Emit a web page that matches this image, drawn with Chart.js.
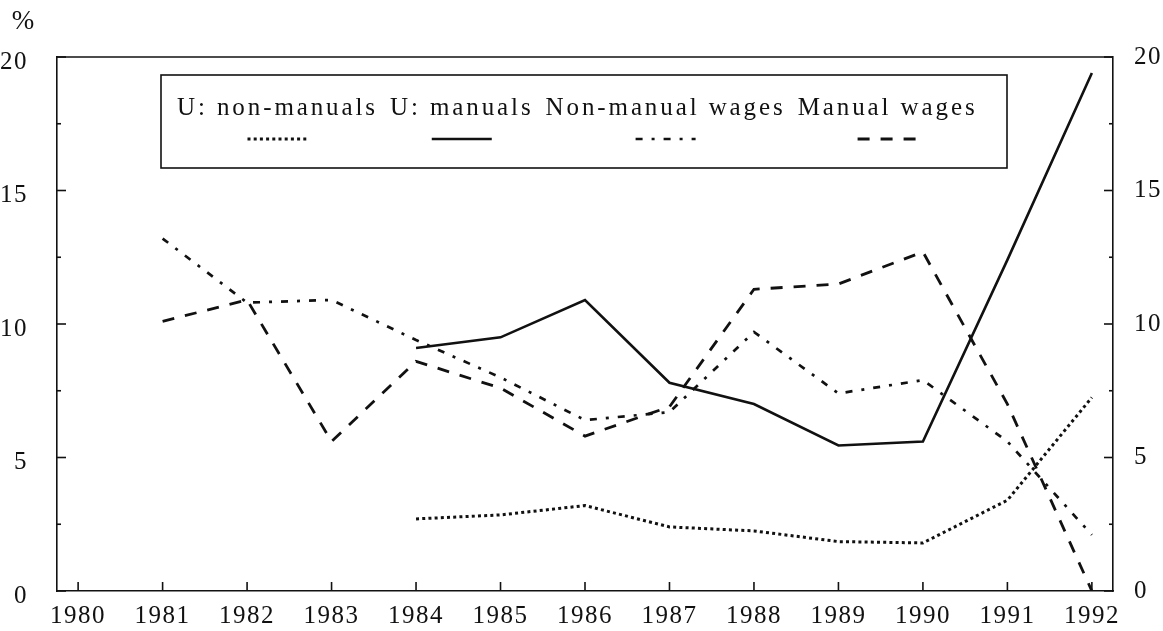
<!DOCTYPE html>
<html>
<head>
<meta charset="utf-8">
<script src="https://cdn.jsdelivr.net/npm/chart.js@4.4.1/dist/chart.umd.min.js"></script>
<style>
  html, body { margin: 0; padding: 0; background: #fff; }
  #wrap { width: 1163px; height: 631px; position: relative; }
</style>
</head>
<body>
<div id="wrap"><canvas id="c" width="1163" height="631"></canvas></div>
<script>
// ---- data ----
const uYears = [1984, 1985, 1986, 1987, 1988, 1989, 1990, 1991, 1992];
const uNonManuals = [2.7, 2.85, 3.2, 2.4, 2.25, 1.85, 1.8, 3.4, 7.25];
const uManuals = [9.1, 9.5, 10.9, 7.8, 7.0, 5.45, 5.6, 12.4, 19.4];
const wageYears = [1981, 1982, 1983, 1984, 1985, 1986, 1987, 1988, 1989, 1990, 1991, 1992];
const nonManualWages = [13.2, 10.8, 10.9, 9.4, 8.0, 6.4, 6.7, 9.7, 7.4, 7.9, 5.6, 2.1];
const manualWages = [10.1, 10.9, 5.6, 8.6, 7.6, 5.8, 6.9, 11.3, 11.5, 12.7, 7.0, 0];
const seriesNames = ['U: non-manuals', 'U: manuals', 'Non-manual wages', 'Manual wages'];
const xFirstYear = 1980, xLastYear = 1992;
const yMin = 0, yMax = 20, yMajorStep = 5, yMinorStep = 2.5;
const unitLabel = '%';

const pts = (xs, ys) => xs.map((x, i) => ({ x: x, y: ys[i] }));

const INK = '#111';
const FONT = 'Liberation Serif';

const spacingPlugin = {
  id: 'spacing',
  beforeDraw(chart) { chart.ctx.letterSpacing = '1.5px'; }
};

const framePlugin = {
  id: 'frameTicks',
  afterDatasetsDraw(chart) {
    const { ctx, chartArea: ca, scales } = chart;
    ctx.save();
    ctx.strokeStyle = INK;
    ctx.lineWidth = 1.6;
    const seg = (a, b, c, d) => { ctx.beginPath(); ctx.moveTo(a, b); ctx.lineTo(c, d); ctx.stroke(); };
    seg(ca.left, ca.top, ca.right, ca.top);
    scales.x.ticks.forEach(t => {
      const px = scales.x.getPixelForValue(t.value);
      seg(px, ca.bottom, px, ca.bottom - 9);
    });
    scales.y.ticks.forEach(t => {
      const py = scales.y.getPixelForValue(t.value);
      const len = (t.value % yMajorStep === 0) ? 9 : 4;
      seg(ca.left, py, ca.left + len, py);
    });
    scales.y2.ticks.forEach(t => {
      const py = scales.y2.getPixelForValue(t.value);
      const len = (t.value % yMajorStep === 0) ? 9 : 4;
      seg(ca.right, py, ca.right - len, py);
    });
    // unit label
    ctx.fillStyle = INK;
    ctx.font = '27px "' + FONT + '"';
    ctx.textAlign = 'center';
    ctx.textBaseline = 'middle';
    ctx.letterSpacing = '0px';
    ctx.fillText(unitLabel, 23, 22);
    ctx.restore();
  }
};

const legendPlugin = {
  id: 'boxLegend',
  afterDraw(chart) {
    const { ctx, chartArea: ca } = chart;
    const box = { l: ca.left + 104, r: ca.left + 950, t: ca.top + 18, b: ca.top + 111 };
    ctx.save();
    ctx.fillStyle = '#fff';
    ctx.fillRect(box.l, box.t, box.r - box.l, box.b - box.t);
    ctx.strokeStyle = INK;
    ctx.lineWidth = 1.6;
    ctx.strokeRect(box.l, box.t, box.r - box.l, box.b - box.t);
    ctx.font = '25px "' + FONT + '"';
    ctx.letterSpacing = '2.9px';
    ctx.textAlign = 'left';
    ctx.textBaseline = 'middle';
    ctx.fillStyle = INK;
    const textY = ca.top + 51, sampleY = ca.top + 82;
    let x = box.l + 16;
    const gap = 12;
    chart.data.datasets.forEach(ds => {
      const w = ctx.measureText(ds.label).width;
      ctx.fillText(ds.label, x, textY);
      const cx = x + w / 2;
      ctx.save();
      ctx.setLineDash(ds.borderDash || []);
      ctx.lineWidth = ds.borderWidth;
      ctx.strokeStyle = ds.borderColor;
      ctx.beginPath();
      ctx.moveTo(cx - 30, sampleY);
      ctx.lineTo(cx + 30, sampleY);
      ctx.stroke();
      ctx.restore();
      x += w + gap;
    });
    ctx.restore();
  }
};

const yTickCb = v => (v % yMajorStep === 0 ? String(v) : '');

new Chart(document.getElementById('c'), {
  type: 'line',
  data: {
    datasets: [
      { label: seriesNames[0], data: pts(uYears, uNonManuals), borderDash: [3, 3.2], borderWidth: 3 },
      { label: seriesNames[1], data: pts(uYears, uManuals), borderDash: [], borderWidth: 2.6 },
      { label: seriesNames[2], data: pts(wageYears, nonManualWages), borderDash: [7, 9, 3, 9], borderWidth: 2.7 },
      { label: seriesNames[3], data: pts(wageYears, manualWages), borderDash: [12, 11], borderWidth: 2.8 }
    ].map(d => Object.assign({
      borderColor: INK, pointRadius: 0, pointHoverRadius: 0, fill: false, tension: 0, borderCapStyle: 'butt'
    }, d))
  },
  options: {
    responsive: false,
    animation: false,
    events: [],
    layout: { padding: { top: 57, left: 0, right: 0, bottom: 0 } },
    plugins: { legend: { display: false }, tooltip: { enabled: false }, title: { display: false } },
    scales: {
      x: {
        type: 'linear',
        min: xFirstYear - 0.25,
        max: xLastYear + 0.25,
        grid: { display: false },
        border: { display: true, color: INK, width: 1.6 },
        ticks: {
          stepSize: 1, includeBounds: false, autoSkip: false, maxRotation: 0, minRotation: 0,
          padding: 2, color: INK, font: { family: FONT, size: 25 },
          callback: v => String(v)
        },
        afterFit: s => { s.height = 40; }
      },
      y: {
        type: 'linear', position: 'left', min: yMin, max: yMax,
        grid: { display: false },
        border: { display: true, color: INK, width: 1.6 },
        ticks: { stepSize: yMinorStep, autoSkip: false, padding: 21, labelOffset: 5, color: INK, font: { family: FONT, size: 25 }, callback: yTickCb },
        afterFit: s => { s.width = 57; }
      },
      y2: {
        type: 'linear', position: 'right', min: yMin, max: yMax,
        grid: { display: false },
        border: { display: true, color: INK, width: 1.6 },
        ticks: { stepSize: yMinorStep, autoSkip: false, padding: 13, color: INK, font: { family: FONT, size: 25 }, callback: yTickCb },
        afterFit: s => { s.width = 50; }
      }
    }
  },
  plugins: [spacingPlugin, framePlugin, legendPlugin]
});
</script>
</body>
</html>
